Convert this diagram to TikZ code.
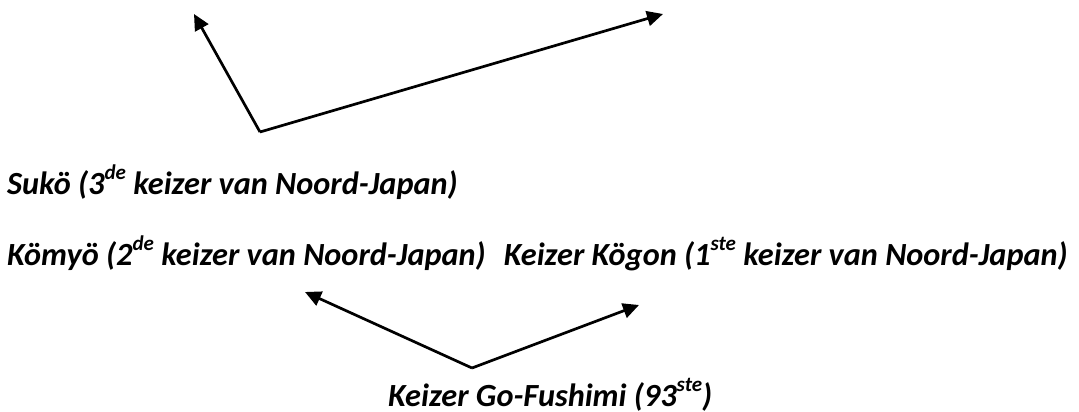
\documentclass[tikz,border=0pt]{standalone}
\usepackage{fontspec}
\setmainfont{Carlito}
\usetikzlibrary{arrows.meta}
\newcommand{\mysup}[1]{\raisebox{14.5pt}{\fontsize{21}{21}\selectfont #1}}
\begin{document}
\begin{tikzpicture}[x=1pt,y=-1pt,
  lbl/.style={inner sep=0pt, font=\fontsize{32.3}{36}\selectfont\bfseries\itshape},
  arr/.style={line width=2.7pt, -{Triangle[length=16pt,width=15pt]}}]
\useasboundingbox (0,0) rectangle (1079,412);
\node[lbl, anchor=base west] (sukoe) at (7,194) {Sukö (3\mysup{de} keizer van Noord-Japan)};
\node[lbl, anchor=base west] (koemyoe) at (7,265) {Kömyö (2\mysup{de} keizer van Noord-Japan)};
\node[lbl, anchor=base east] (koegon) at (1068,265) {Keizer Kögon (1\mysup{ste} keizer van Noord-Japan)};
\node[lbl, anchor=base west] (gofushimi) at (388,406) {Keizer Go-Fushimi (93\mysup{ste})};
\coordinate (topv) at (260,132);
\coordinate (topl) at (194,14);
\coordinate (topr) at (663,14);
\coordinate (botv) at (472,368);
\coordinate (botl) at (305,292);
\coordinate (botr) at (639,305);
\draw[arr] (topv) -- (topl);
\draw[arr] (topv) -- (topr);
\draw[arr] (botv) -- (botl);
\draw[arr] (botv) -- (botr);
\end{tikzpicture}
\end{document}
